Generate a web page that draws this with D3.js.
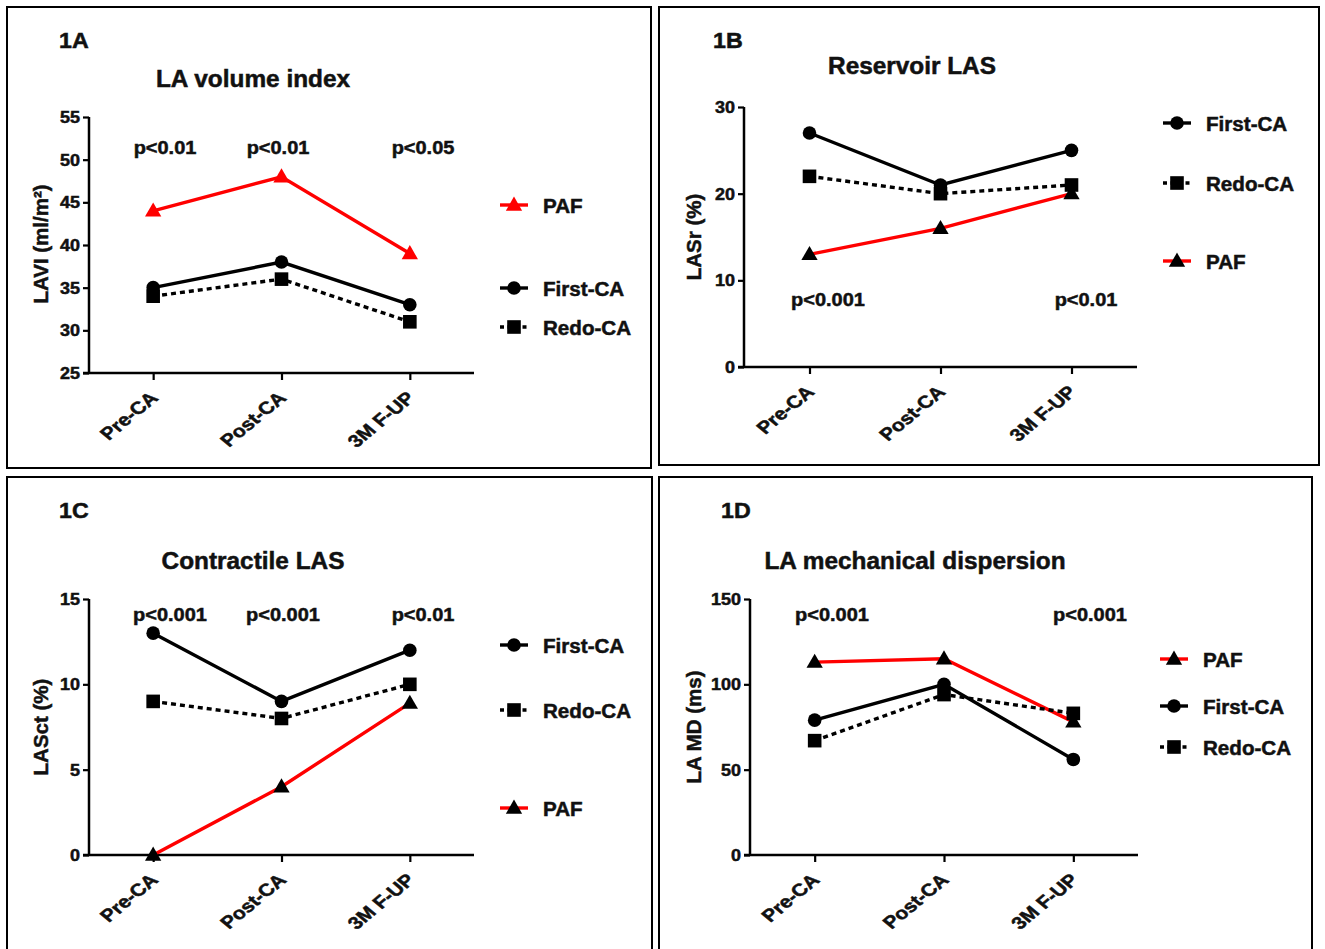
<!DOCTYPE html>
<html>
<head>
<meta charset="utf-8">
<script src="https://cdn.jsdelivr.net/npm/d3@7"></script>
<style>
  html, body { margin: 0; padding: 0; background: #fff; }
  svg { display: block; }
  text { font-family: "Liberation Sans", Arial, sans-serif; font-weight: bold; fill: #111; }
</style>
</head>
<body>
<svg id="chart" width="1325" height="949"></svg>
<script>
// ---------------- DATA ----------------
const categories = ["Pre-CA", "Post-CA", "3M F-UP"];

// 1A  LA volume index
const laviFirst = [35, 38, 33];
const laviRedo  = [34, 36, 31];
const laviPAF   = [44, 48, 39];
const laviTicks = [25, 30, 35, 40, 45, 50, 55];
const laviP     = ["p<0.01", "p<0.01", "p<0.05"];

// 1B  Reservoir LAS
const lasrFirst = [27, 21, 25];
const lasrRedo  = [22, 20, 21];
const lasrPAF   = [13, 16, 20];
const lasrTicks = [0, 10, 20, 30];
const lasrP     = ["p<0.001", "", "p<0.01"];

// 1C  Contractile LAS
const lasctFirst = [13, 9, 12];
const lasctRedo  = [9, 8, 10];
const lasctPAF   = [0, 4, 8.9];
const lasctTicks = [0, 5, 10, 15];
const lasctP     = ["p<0.001", "p<0.001", "p<0.01"];

// 1D  LA mechanical dispersion
const mdFirst = [79, 100, 56];
const mdRedo  = [67, 94, 83];
const mdPAF   = [113, 115, 78];
const mdTicks = [0, 50, 100, 150];
const mdP     = ["p<0.001", "", "p<0.001"];

// ---------------- LAYOUT ----------------
const svg = d3.select("#chart");

function txt(g, x, y, s, o) {
  o = o || {};
  const sx = o.sx || 1.05, rot = o.rot || 0;
  return g.append("text")
    .attr("transform", `translate(${x},${y}) scale(${sx},1)` + (rot ? ` rotate(${rot})` : ""))
    .attr("font-size", o.size || 15)
    .attr("text-anchor", o.anchor || "start")
    .style("fill", o.fill || "#111")
    .style("stroke", o.fill || "#111")
    .style("stroke-width", 0.5)
    .text(s);
}

function marker(g, shape, x, y, fill) {
  if (shape === "circle") {
    g.append("circle").attr("cx", x).attr("cy", y).attr("r", 6.8).attr("fill", fill);
  } else if (shape === "square") {
    g.append("rect").attr("x", x - 6.8).attr("y", y - 6.8).attr("width", 13.6).attr("height", 13.6).attr("fill", fill);
  } else {
    const s = d3.symbol().type(d3.symbolTriangle).size(115);
    g.append("path").attr("d", s()).attr("transform", `translate(${x},${y + 1})`).attr("fill", fill);
  }
}

const styles = {
  "First-CA": { shape: "circle", color: "#000", dash: null },
  "Redo-CA":  { shape: "square", color: "#000", dash: "5,4" },
  "PAF":      { shape: "triangle", color: "#ff0000", dash: null }
};

const panels = [
  { label: "1A", labelX: 59, labelY: 48, title: "LA volume index", titleX: 253, titleY: 87,
    border: [7, 7, 644, 461],
    xr: [89, 474], yr: [373, 117], dom: [25, 55], ticks: laviTicks, ylabel: "LAVI (ml/m²)", ylx: 48, yly: 244,
    series: [["PAF", laviPAF], ["First-CA", laviFirst], ["Redo-CA", laviRedo]],
    triFill: "#ff0000",
    p: laviP, pY: 154, pX: [165, 278, 423],
    legX: 500, legend: [["PAF", 205], ["First-CA", 288], ["Redo-CA", 327]] },
  { label: "1B", labelX: 713, labelY: 48, title: "Reservoir LAS", titleX: 912, titleY: 74,
    border: [659, 7, 660, 458],
    xr: [744, 1137], yr: [367, 107], dom: [0, 30], ticks: lasrTicks, ylabel: "LASr (%)", ylx: 701, yly: 237,
    series: [["PAF", lasrPAF], ["First-CA", lasrFirst], ["Redo-CA", lasrRedo]],
    triFill: "#000",
    p: lasrP, pY: 306, pX: [828, 0, 1086],
    legX: 1163, legend: [["First-CA", 123], ["Redo-CA", 183], ["PAF", 261]] },
  { label: "1C", labelX: 59, labelY: 518, title: "Contractile LAS", titleX: 253, titleY: 569,
    border: [7, 477, 645, 480],
    xr: [89, 474], yr: [855, 599], dom: [0, 15], ticks: lasctTicks, ylabel: "LASct (%)", ylx: 48, yly: 727,
    series: [["PAF", lasctPAF], ["First-CA", lasctFirst], ["Redo-CA", lasctRedo]],
    triFill: "#000",
    p: lasctP, pY: 621, pX: [170, 283, 423],
    legX: 500, legend: [["First-CA", 645], ["Redo-CA", 710], ["PAF", 808]] },
  { label: "1D", labelX: 721, labelY: 518, title: "LA mechanical dispersion", titleX: 915, titleY: 569,
    border: [659, 477, 653, 480],
    xr: [750, 1138], yr: [855, 599], dom: [0, 150], ticks: mdTicks, ylabel: "LA MD (ms)", ylx: 701, yly: 727,
    series: [["PAF", mdPAF], ["First-CA", mdFirst], ["Redo-CA", mdRedo]],
    triFill: "#000",
    p: mdP, pY: 621, pX: [832, 0, 1090],
    legX: 1160, legend: [["PAF", 659], ["First-CA", 706], ["Redo-CA", 747]] }
];

panels.forEach(P => {
  const g = svg.append("g");
  const [bx, by, bw, bh] = P.border;
  g.append("rect").attr("x", bx).attr("y", by).attr("width", bw).attr("height", bh)
    .attr("fill", "none").attr("stroke", "#000").attr("stroke-width", 2);

  const x = d3.scalePoint().domain(categories).range(P.xr).padding(0.5);
  const y = d3.scaleLinear().domain(P.dom).range(P.yr);

  // y axis
  const ya = g.append("g").attr("transform", `translate(${P.xr[0]},0)`)
    .call(d3.axisLeft(y).tickValues(P.ticks).tickSize(6).tickFormat(d3.format("d")));
  ya.select(".domain").attr("stroke", "#000").attr("stroke-width", 2.5).attr("d", `M0,${P.yr[0]}V${P.yr[1]}`);
  ya.selectAll(".tick line").attr("stroke", "#000").attr("stroke-width", 2.2);
  ya.selectAll(".tick text").remove();
  P.ticks.forEach(t => txt(g, P.xr[0] - 9, y(t) + 6, String(t), { anchor: "end", size: 17, sx: 1.06 }));

  // x axis
  const xa = g.append("g").attr("transform", `translate(0,${P.yr[0]})`)
    .call(d3.axisBottom(x).tickSize(7).tickSizeOuter(0));
  xa.select(".domain").attr("stroke", "#000").attr("stroke-width", 2.5).attr("d", `M${P.xr[0] - 6},0H${P.xr[1]}`);
  xa.selectAll(".tick line").attr("stroke", "#000").attr("stroke-width", 2.2);
  xa.selectAll(".tick text").remove();
  categories.forEach(c => txt(g, x(c) + 6, P.yr[0] + 26, c, { anchor: "end", size: 17.5, sx: 1.2, rot: -45 }));

  // y label
  txt(g, P.ylx, P.yly, P.ylabel, { anchor: "middle", size: 20.5, sx: 1.0, rot: -90 });

  // title + panel label
  txt(g, P.titleX, P.titleY, P.title, { anchor: "middle", size: 23, sx: 1.06 });
  txt(g, P.labelX, P.labelY, P.label, { anchor: "start", size: 21.5, sx: 1.08 });

  // p values
  P.p.forEach((s, i) => { if (s) txt(g, P.pX[i], P.pY, s, { anchor: "middle", size: 18.5, sx: 1.08 }); });

  // series
  const line = d3.line().x((d, i) => x(categories[i])).y(d => y(d));
  P.series.forEach(([name, vals]) => {
    const st = styles[name];
    g.append("path").datum(vals).attr("d", line).attr("fill", "none")
      .attr("stroke", st.color).attr("stroke-width", 3.4)
      .attr("stroke-dasharray", st.dash);
    const mf = name === "PAF" ? P.triFill : "#000";
    vals.forEach((v, i) => marker(g, st.shape, x(categories[i]), y(v), mf));
  });

  // legend
  P.legend.forEach(([name, ly]) => {
    const st = styles[name];
    g.append("line").attr("x1", P.legX).attr("x2", P.legX + 28).attr("y1", ly).attr("y2", ly)
      .attr("stroke", st.color).attr("stroke-width", 3.4).attr("stroke-dasharray", st.dash ? "4,3.5" : null);
    const mf = name === "PAF" ? P.triFill : "#000";
    marker(g, st.shape, P.legX + 14, ly, mf);
    txt(g, P.legX + 43, ly + 7.5, name, { anchor: "start", size: 20, sx: 1.03 });
  });
});
</script>
</body>
</html>
